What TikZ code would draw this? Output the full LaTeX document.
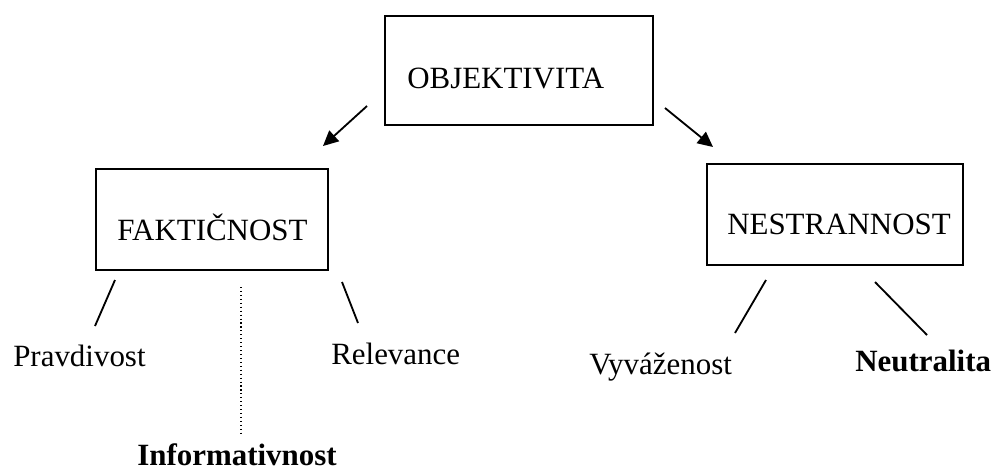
\documentclass[tikz,border=0pt]{standalone}
\usepackage{fontspec}
\setmainfont{Liberation Serif}
\usetikzlibrary{arrows.meta}

\tikzset{
  box/.style = {draw=black, line width=1.4pt, inner sep=0pt},
  term/.style = {anchor=base west, inner sep=0pt, font=\fontsize{22}{26}\selectfont},
  bterm/.style = {term, font=\fontsize{22}{26}\selectfont\bfseries},
  branch/.style = {line width=1.3pt},
  pointer/.style = {line width=1.3pt, -{Triangle[length=3.8mm, width=3.6mm]}}
}

\begin{document}
\begin{tikzpicture}[x=0.025cm, y=-0.025cm]

  \useasboundingbox (0,0) rectangle (997,470);

  % top level
  \node[box, minimum width=268*0.025cm, minimum height=109*0.025cm] (obj) at (519,70.5) {};
  \node[term] (objtxt) at (407,88) {OBJEKTIVITA};

  % second level
  \node[box, minimum width=232*0.025cm, minimum height=101*0.025cm] (fakt) at (212,219.5) {};
  \node[term] (fakttxt) at (117,240) {FAKTIČNOST};

  \node[box, minimum width=256*0.025cm, minimum height=101*0.025cm] (nestr) at (835,214.5) {};
  \node[term] (nestrtxt) at (727,234) {NESTRANNOST};

  \coordinate (a1) at (367,106);
  \coordinate (a2) at (323,146);
  \coordinate (b1) at (665,108);
  \coordinate (b2) at (713,147);
  \draw[pointer] (a1) -- (a2);
  \draw[pointer] (b1) -- (b2);

  % leaves
  \node[term] (pravd) at (13,366) {Pravdivost};
  \node[term] (relev) at (331,364) {Relevance};
  \node[bterm] (info) at (137,465) {Informativnost};
  \node[term] (vyvaz) at (589,374) {Vyváženost};
  \node[bterm] (neutr) at (855,371) {Neutralita};

  \coordinate (p1) at (115,280);
  \coordinate (p2) at (95,326);
  \coordinate (r1) at (342,282);
  \coordinate (r2) at (358,323);
  \coordinate (i1) at (241,287);
  \coordinate (i2) at (241,433);
  \coordinate (v1) at (766,280);
  \coordinate (v2) at (735,333);
  \coordinate (n1) at (875,282);
  \coordinate (n2) at (927,335);

  \draw[branch] (p1) -- (p2);
  \draw[branch] (r1) -- (r2);
  \draw[line width=0.8pt, dotted] (i1) -- (i2);
  \draw[branch] (v1) -- (v2);
  \draw[branch] (n1) -- (n2);

\end{tikzpicture}
\end{document}
